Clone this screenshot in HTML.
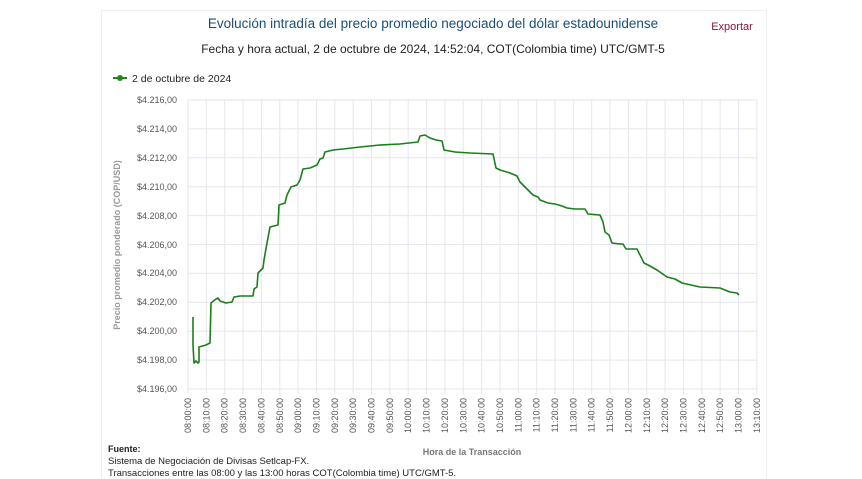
<!DOCTYPE html>
<html><head><meta charset="utf-8"><style>
body{margin:0;background:#fff;width:862px;height:479px;overflow:hidden;font-family:"Liberation Sans",sans-serif;}
</style></head><body>
<svg width="862" height="479" xmlns="http://www.w3.org/2000/svg" style="position:absolute;left:0;top:0">
<rect x="101.5" y="10.5" width="665" height="470" fill="#fff" stroke="#eee"/>
<text x="433" y="28" text-anchor="middle" font-size="13.5" fill="#1b4f7a">Evolución intradía del precio promedio negociado del dólar estadounidense</text>
<text x="732" y="30" text-anchor="middle" font-size="11" fill="#8a1538">Exportar</text>
<text x="433" y="53" text-anchor="middle" font-size="12" fill="#222">Fecha y hora actual, 2 de octubre de 2024, 14:52:04, COT(Colombia time) UTC/GMT-5</text>
<line x1="113" y1="78" x2="127" y2="78" stroke="#1a8a1a" stroke-width="2"/>
<circle cx="120" cy="78" r="3" fill="#1a8a1a"/>
<text x="132" y="82" font-size="10.5" fill="#222">2 de octubre de 2024</text>
<path stroke="#e6e6ee" stroke-width="1" fill="none" d="M188 100H757M188 128.9H757M188 157.8H757M188 186.7H757M188 215.6H757M188 244.5H757M188 273.4H757M188 302.3H757M188 331.2H757M188 360.1H757M188 389H757
M188 100V394M206.35 100V394M224.7 100V394M243.05 100V394M261.4 100V394M279.75 100V394M298.1 100V394M316.45 100V394M334.8 100V394M353.15 100V394M371.5 100V394M389.85 100V394M408.2 100V394M426.55 100V394M444.9 100V394M463.25 100V394M481.6 100V394M499.95 100V394M518.3 100V394M536.65 100V394M555 100V394M573.35 100V394M591.7 100V394M610.05 100V394M628.4 100V394M646.75 100V394M665.1 100V394M683.45 100V394M701.8 100V394M720.15 100V394M738.5 100V394M756.85 100V394"/>
<g font-size="9" fill="#555" text-anchor="end">
<text x="177" y="103">$4.216,00</text><text x="177" y="132">$4.214,00</text><text x="177" y="161">$4.212,00</text><text x="177" y="190">$4.210,00</text><text x="177" y="219">$4.208,00</text><text x="177" y="248">$4.206,00</text><text x="177" y="276">$4.204,00</text><text x="177" y="305">$4.202,00</text><text x="177" y="334">$4.200,00</text><text x="177" y="363">$4.198,00</text><text x="177" y="392">$4.196,00</text>
</g>
<g font-size="9" fill="#555" text-anchor="end">
<text transform="translate(191,398) rotate(-90)">08:00:00</text>
<text transform="translate(209.35,398) rotate(-90)">08:10:00</text>
<text transform="translate(227.7,398) rotate(-90)">08:20:00</text>
<text transform="translate(246.05,398) rotate(-90)">08:30:00</text>
<text transform="translate(264.4,398) rotate(-90)">08:40:00</text>
<text transform="translate(282.75,398) rotate(-90)">08:50:00</text>
<text transform="translate(301.1,398) rotate(-90)">09:00:00</text>
<text transform="translate(319.45,398) rotate(-90)">09:10:00</text>
<text transform="translate(337.8,398) rotate(-90)">09:20:00</text>
<text transform="translate(356.15,398) rotate(-90)">09:30:00</text>
<text transform="translate(374.5,398) rotate(-90)">09:40:00</text>
<text transform="translate(392.85,398) rotate(-90)">09:50:00</text>
<text transform="translate(411.2,398) rotate(-90)">10:00:00</text>
<text transform="translate(429.55,398) rotate(-90)">10:10:00</text>
<text transform="translate(447.9,398) rotate(-90)">10:20:00</text>
<text transform="translate(466.25,398) rotate(-90)">10:30:00</text>
<text transform="translate(484.6,398) rotate(-90)">10:40:00</text>
<text transform="translate(502.95,398) rotate(-90)">10:50:00</text>
<text transform="translate(521.3,398) rotate(-90)">11:00:00</text>
<text transform="translate(539.65,398) rotate(-90)">11:10:00</text>
<text transform="translate(558,398) rotate(-90)">11:20:00</text>
<text transform="translate(576.35,398) rotate(-90)">11:30:00</text>
<text transform="translate(594.7,398) rotate(-90)">11:40:00</text>
<text transform="translate(613.05,398) rotate(-90)">11:50:00</text>
<text transform="translate(631.4,398) rotate(-90)">12:00:00</text>
<text transform="translate(649.75,398) rotate(-90)">12:10:00</text>
<text transform="translate(668.1,398) rotate(-90)">12:20:00</text>
<text transform="translate(686.45,398) rotate(-90)">12:30:00</text>
<text transform="translate(704.8,398) rotate(-90)">12:40:00</text>
<text transform="translate(723.15,398) rotate(-90)">12:50:00</text>
<text transform="translate(741.5,398) rotate(-90)">13:00:00</text>
<text transform="translate(759.85,398) rotate(-90)">13:10:00</text>
</g>
<text transform="translate(120,245) rotate(-90)" text-anchor="middle" font-size="9" font-weight="bold" fill="#999">Precio promedio ponderado (COP/USD)</text>
<text x="472" y="455" text-anchor="middle" font-size="9" font-weight="bold" fill="#777">Hora de la Transacción</text>
<text x="108" y="452" font-size="9" font-weight="bold" fill="#222">Fuente:</text>
<text x="108" y="464" font-size="9.5" fill="#222">Sistema de Negociación de Divisas Setlcap-FX.</text>
<text x="108" y="476" font-size="9.5" fill="#222">Transacciones entre las 08:00 y las 13:00 horas COT(Colombia time) UTC/GMT-5.</text>
<polyline fill="none" stroke="#1a7f1a" stroke-width="1.6" stroke-linejoin="round" points="193,317 193,345 194,363 196,361 198,363 199,362 199,347 206,345 210,343 211,303 216,299 218,298 220,301 226,303 232,302 234,297 240,296 253,296 254,289 257,287 258,273 263,268 264,260 267,243 270,227 278,225 279,205 285,203 287,195 291,187 297,185 300,180 303,169 310,168 317,165 320,159 323,158 325,152 333,150 343,149 360,147 380,145 400,144 418,142 420,136 425,135 430,138 436,140 442,141 444,150 455,152 470,153 493,154 496,168 500,170 510,173 517,176 520,182 523,185 528,190 533,195 538,197 540,200 548,203 555,204 562,206 567,208 575,209 585,209 588,214 600,215 603,222 605,232 609,235 612,243 620,244 623,244 626,249 637,249 640,255 644,263 650,266 657,270 667,277 675,279 682,283 700,287 720,288 725,290 730,292 737,293 739,295"/>
</svg>
</body></html>
